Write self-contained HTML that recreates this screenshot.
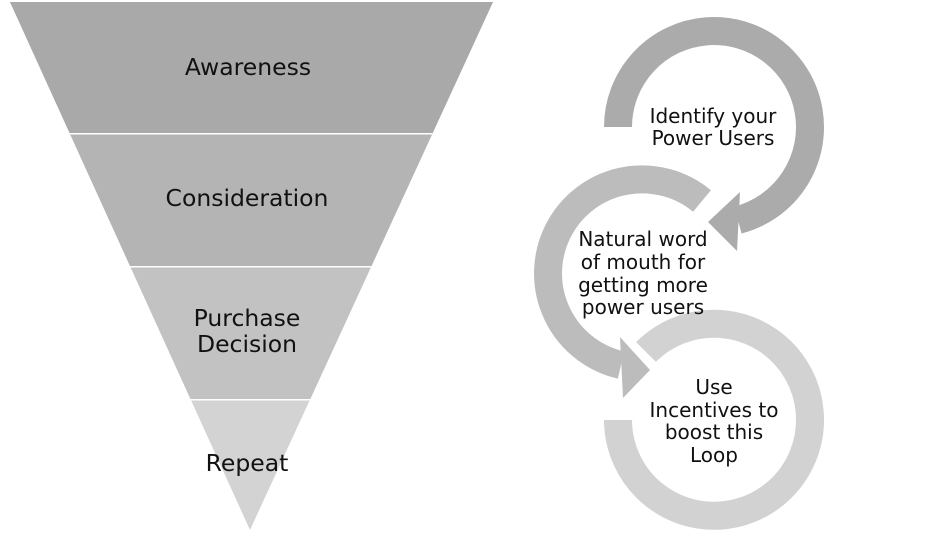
<!DOCTYPE html>
<html><head><meta charset="utf-8"><style>
body{margin:0;background:#fff;}
svg{display:block;}
text{font-family:"DejaVu Sans","Liberation Sans",sans-serif;fill:#111;}
</style></head><body>
<svg width="925" height="533" viewBox="0 0 925 533">
<polygon points="10,2 493,2 250,530" fill="#d3d3d3"/>
<clipPath id="f"><polygon points="10,2 493,2 250,530"/></clipPath>
<g clip-path="url(#f)">
<rect x="0" y="0" width="500" height="133" fill="#a9a9a9"/>
<rect x="0" y="133" width="500" height="133" fill="#b4b4b4"/>
<rect x="0" y="266" width="500" height="133" fill="#c2c2c2"/>
<rect x="0" y="133" width="500" height="1.5" fill="#fff"/>
<rect x="0" y="266" width="500" height="1.5" fill="#fff"/>
<rect x="0" y="399" width="500" height="1.5" fill="#fff"/>
</g>
<g font-size="23.5" text-anchor="middle">
<text x="248" y="75">Awareness</text>
<text x="247" y="206">Consideration</text>
<text x="247" y="326">Purchase</text>
<text x="247" y="352">Decision</text>
<text x="247" y="471">Repeat</text>
</g>
<g fill="none" stroke-width="28">
<path d="M646 352 A96 96 0 1 1 618 420" stroke="#d2d2d2"/>
<path d="M702 201 A94 94 0 1 0 621 365" stroke="#bcbcbc"/>
<path d="M618 127 A96 96 0 1 1 738 220" stroke="#ababab"/>
</g>
<polygon points="620,337 623,398 650,370" fill="#bcbcbc"/>
<polygon points="740,192 737,251 708,222" fill="#ababab"/>
<g font-size="20" text-anchor="middle">
<text x="713" y="123">Identify your</text>
<text x="713" y="145">Power Users</text>
<text x="643" y="246">Natural word</text>
<text x="643" y="269">of mouth for</text>
<text x="643" y="292">getting more</text>
<text x="643" y="314">power users</text>
<text x="714" y="394">Use</text>
<text x="714" y="417">Incentives to</text>
<text x="714" y="439">boost this</text>
<text x="714" y="462">Loop</text>
</g>
</svg>
</body></html>
